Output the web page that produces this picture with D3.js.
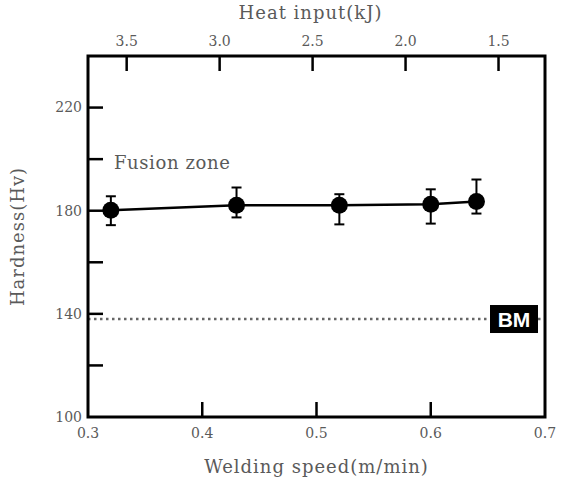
<!DOCTYPE html>
<html>
<head>
<meta charset="utf-8">
<script src="https://cdn.jsdelivr.net/npm/d3@7"></script>
<style>
  body { margin: 0; background: #fff; }
  svg text { font-family: "DejaVu Serif", serif; fill: #5a5a5a; }
</style>
</head>
<body>
<script>
// data
var speed = [0.32, 0.43, 0.52, 0.60, 0.64];
var hardness = [180.2, 182.1, 182.1, 182.5, 183.6];
var errLow = [174.4, 177.4, 174.7, 175.0, 178.9];
var errHigh = [185.6, 189.0, 186.4, 188.3, 192.1];
var bmHardness = 138;
var speedTicks = [0.3, 0.4, 0.5, 0.6, 0.7];
var heatTicks = [3.5, 3.0, 2.5, 2.0, 1.5];
var hardTicks = [100, 120, 140, 160, 180, 200, 220];
var hardLabels = [100, 140, 180, 220];

var margin = {top: 56, right: 16, bottom: 62, left: 88},
    width = 561 - margin.left - margin.right,
    height = 479 - margin.top - margin.bottom;

var x = d3.scaleLinear().domain([0.3, 0.7]).range([0, width]);
var xTop = d3.scaleLinear().domain([3.708, 1.25]).range([0, width]);
var y = d3.scaleLinear().domain([100, 240]).range([height, 0]);

var svg = d3.select("body").append("svg")
    .attr("width", 561)
    .attr("height", 479)
  .append("g")
    .attr("transform", "translate(" + margin.left + "," + margin.top + ")");

// inward ticks
svg.selectAll(".ytick").data(hardTicks.slice(1))
  .enter().append("line")
    .attr("x1", 0).attr("x2", 15)
    .attr("y1", function(d) { return y(d); }).attr("y2", function(d) { return y(d); })
    .attr("stroke", "#000").attr("stroke-width", 2.5);
svg.selectAll(".xtick").data(speedTicks.slice(1, 4))
  .enter().append("line")
    .attr("x1", function(d) { return x(d); }).attr("x2", function(d) { return x(d); })
    .attr("y1", height).attr("y2", height - 15)
    .attr("stroke", "#000").attr("stroke-width", 2.5);
svg.selectAll(".ttick").data(heatTicks)
  .enter().append("line")
    .attr("x1", function(d) { return xTop(d); }).attr("x2", function(d) { return xTop(d); })
    .attr("y1", 0).attr("y2", 15)
    .attr("stroke", "#000").attr("stroke-width", 2.5);

// tick labels
svg.selectAll(".ylab").data(hardLabels)
  .enter().append("text")
    .attr("x", -6).attr("y", function(d) { return y(d); })
    .attr("dy", "0.35em").attr("text-anchor", "end")
    .style("font-size", "14px")
    .text(function(d) { return d; });
svg.selectAll(".xlab").data(speedTicks)
  .enter().append("text")
    .attr("x", function(d) { return x(d); }).attr("y", height + 21)
    .attr("text-anchor", "middle")
    .style("font-size", "14px")
    .text(function(d) { return d.toFixed(1); });
svg.selectAll(".tlab").data(heatTicks)
  .enter().append("text")
    .attr("x", function(d) { return xTop(d); }).attr("y", -10)
    .attr("text-anchor", "middle")
    .style("font-size", "14px")
    .text(function(d) { return d.toFixed(1); });

// base metal dotted line
svg.append("line")
    .attr("x1", 0).attr("x2", width)
    .attr("y1", y(bmHardness)).attr("y2", y(bmHardness))
    .attr("stroke", "#666").attr("stroke-width", 2.5)
    .attr("stroke-dasharray", "2.5,3.5");
svg.append("rect")
    .attr("x", width - 55).attr("y", y(bmHardness) - 14)
    .attr("width", 48).attr("height", 28)
    .attr("fill", "#000");
svg.append("text")
    .attr("x", width - 31).attr("y", y(bmHardness))
    .attr("dy", "0.36em").attr("text-anchor", "middle")
    .style("font-family", "'Liberation Sans', Arial, sans-serif")
    .style("font-weight", "bold").style("font-size", "21px")
    .style("fill", "#fff")
    .text("BM");

// fusion zone series
var pts = speed.map(function(s, i) {
  return {s: s, h: hardness[i], lo: errLow[i], hi: errHigh[i]};
});

svg.append("path")
    .datum(pts)
    .attr("fill", "none").attr("stroke", "#000").attr("stroke-width", 2.5)
    .attr("d", d3.line()
      .x(function(d) { return x(d.s); })
      .y(function(d) { return y(d.h); }));

var eb = svg.selectAll(".err").data(pts).enter().append("g");
eb.append("line")
    .attr("x1", function(d) { return x(d.s); }).attr("x2", function(d) { return x(d.s); })
    .attr("y1", function(d) { return y(d.lo); }).attr("y2", function(d) { return y(d.hi); })
    .attr("stroke", "#000").attr("stroke-width", 2);
eb.selectAll(".cap").data(function(d) { return [[d.s, d.lo], [d.s, d.hi]]; })
  .enter().append("line")
    .attr("x1", function(d) { return x(d[0]) - 5; }).attr("x2", function(d) { return x(d[0]) + 5; })
    .attr("y1", function(d) { return y(d[1]); }).attr("y2", function(d) { return y(d[1]); })
    .attr("stroke", "#000").attr("stroke-width", 2);
svg.selectAll(".dot").data(pts)
  .enter().append("circle")
    .attr("cx", function(d) { return x(d.s); })
    .attr("cy", function(d) { return y(d.h); })
    .attr("r", 8.5).attr("fill", "#000");

svg.append("text")
    .attr("x", 26).attr("y", y(196))
    .style("font-size", "18px")
    .style("letter-spacing", "0.6px")
    .text("Fusion zone");

// frame
svg.append("rect")
    .attr("width", width).attr("height", height)
    .attr("fill", "none").attr("stroke", "#000").attr("stroke-width", 3);

// axis titles
svg.append("text")
    .attr("x", width / 2 - 6).attr("y", -37)
    .attr("text-anchor", "middle").style("font-size", "18px")
    .style("letter-spacing", "1px")
    .text("Heat input(kJ)");
svg.append("text")
    .attr("x", width / 2).attr("y", height + 56)
    .attr("text-anchor", "middle").style("font-size", "18px")
    .style("letter-spacing", "1px")
    .text("Welding speed(m/min)");
svg.append("text")
    .attr("transform", "translate(" + (-64) + "," + (height / 2) + ") rotate(-90)")
    .attr("text-anchor", "middle").style("font-size", "18px")
    .style("letter-spacing", "1px")
    .text("Hardness(Hv)");
</script>
</body>
</html>
